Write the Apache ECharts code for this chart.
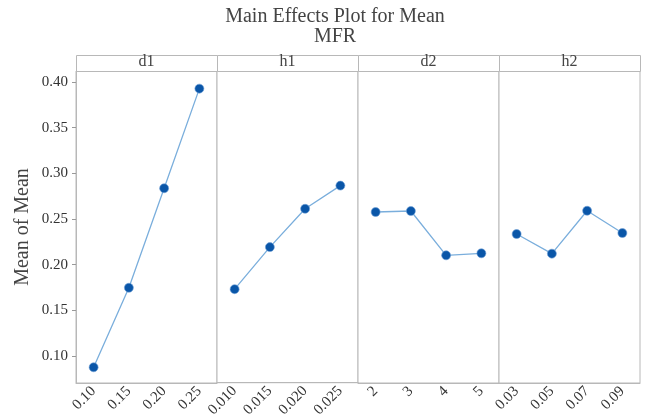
<!DOCTYPE html>
<html>
<head>
<meta charset="utf-8">
<script src="https://cdn.jsdelivr.net/npm/echarts@6/dist/echarts.min.js"></script>
<style>html,body{margin:0;padding:0;background:#fff;}#c{width:645px;height:420px;}</style>
</head>
<body>
<div id="c"></div>
<script>
var factors = ['d1', 'h1', 'd2', 'h2'];
var d1Levels = ['0.10', '0.15', '0.20', '0.25'];
var h1Levels = ['0.010', '0.015', '0.020', '0.025'];
var d2Levels = ['2', '3', '4', '5'];
var h2Levels = ['0.03', '0.05', '0.07', '0.09'];
var d1Means = [0.0876, 0.1747, 0.2836, 0.3927];
var h1Means = [0.1729, 0.2190, 0.2610, 0.2864];
var d2Means = [0.2576, 0.2587, 0.2102, 0.2124];
var h2Means = [0.2335, 0.2120, 0.2590, 0.2346];
var yTicks = [0.10, 0.15, 0.20, 0.25, 0.30, 0.35, 0.40];

var levels = [d1Levels, h1Levels, d2Levels, h2Levels];
var means = [d1Means, h1Means, d2Means, h2Means];

var L = 76, W = 141, TOP = 71, H = 312, STRIP = 16;
var YMIN = 0.0704, YMAX = 0.412;
var serif = '"Liberation Serif", "Times New Roman", serif';
var borderCol = '#b8b8b8';

var grids = [], xAxes = [], yAxes = [], series = [], graphics = [];
for (var i = 0; i < 4; i++) {
  grids.push({ left: L + W * i, top: TOP, width: W, height: H, show: true, borderColor: borderCol, borderWidth: 1, backgroundColor: '#fff' });
  xAxes.push({
    type: 'category', gridIndex: i, data: levels[i], boundaryGap: true,
    axisLine: { lineStyle: { color: borderCol } },
    axisTick: { alignWithLabel: true, length: 4, lineStyle: { color: '#999' } },
    axisLabel: { rotate: 45, fontFamily: serif, fontSize: 15, color: '#333', margin: 6 },
    splitLine: { show: false }
  });
  yAxes.push({
    type: 'value', gridIndex: i, min: YMIN, max: YMAX,
    show: i === 0,
    name: i === 0 ? 'Mean of Mean' : '',
    nameLocation: 'middle', nameGap: 43,
    nameTextStyle: { fontFamily: serif, fontSize: 20, color: '#444' },
    axisLine: { show: true, lineStyle: { color: borderCol } },
    axisTick: { show: true, length: 4, lineStyle: { color: '#999' }, customValues: yTicks },
    axisLabel: { fontFamily: serif, fontSize: 15, color: '#333', margin: 8, customValues: yTicks,
      formatter: function (v) { return v.toFixed(2); } },
    splitLine: { show: false }
  });
  series.push({
    type: 'line', xAxisIndex: i, yAxisIndex: i, data: means[i],
    symbol: 'circle', symbolSize: 9,
    lineStyle: { color: '#7aaedc', width: 1.3 },
    itemStyle: { color: '#0a56a8', borderColor: '#6f9fd6', borderWidth: 0.6 },
    z: 3
  });
  graphics.push({
    type: 'rect', left: L + W * i, top: TOP - STRIP,
    shape: { width: W, height: STRIP },
    style: { fill: '#fff', stroke: borderCol, lineWidth: 1 }
  });
  graphics.push({
    type: 'text', x: L + W * i + W / 2, y: TOP - STRIP / 2 - 1,
    style: { text: factors[i], fontFamily: serif, fontSize: 16, fill: '#444', align: 'center', verticalAlign: 'middle' }
  });
}

var chart = echarts.init(document.getElementById('c'), null, { renderer: 'canvas' });
chart.setOption({
  animation: false,
  backgroundColor: '#fff',
  title: {
    text: 'Main Effects Plot for Mean',
    subtext: 'MFR',
    left: 330, top: 2, textAlign: 'center',
    itemGap: 0,
    textStyle: { fontFamily: serif, fontSize: 20, fontWeight: 'normal', color: '#444' },
    subtextStyle: { fontFamily: serif, fontSize: 20, color: '#444' }
  },
  grid: grids,
  xAxis: xAxes,
  yAxis: yAxes,
  series: series,
  graphic: graphics
});
</script>
</body>
</html>
